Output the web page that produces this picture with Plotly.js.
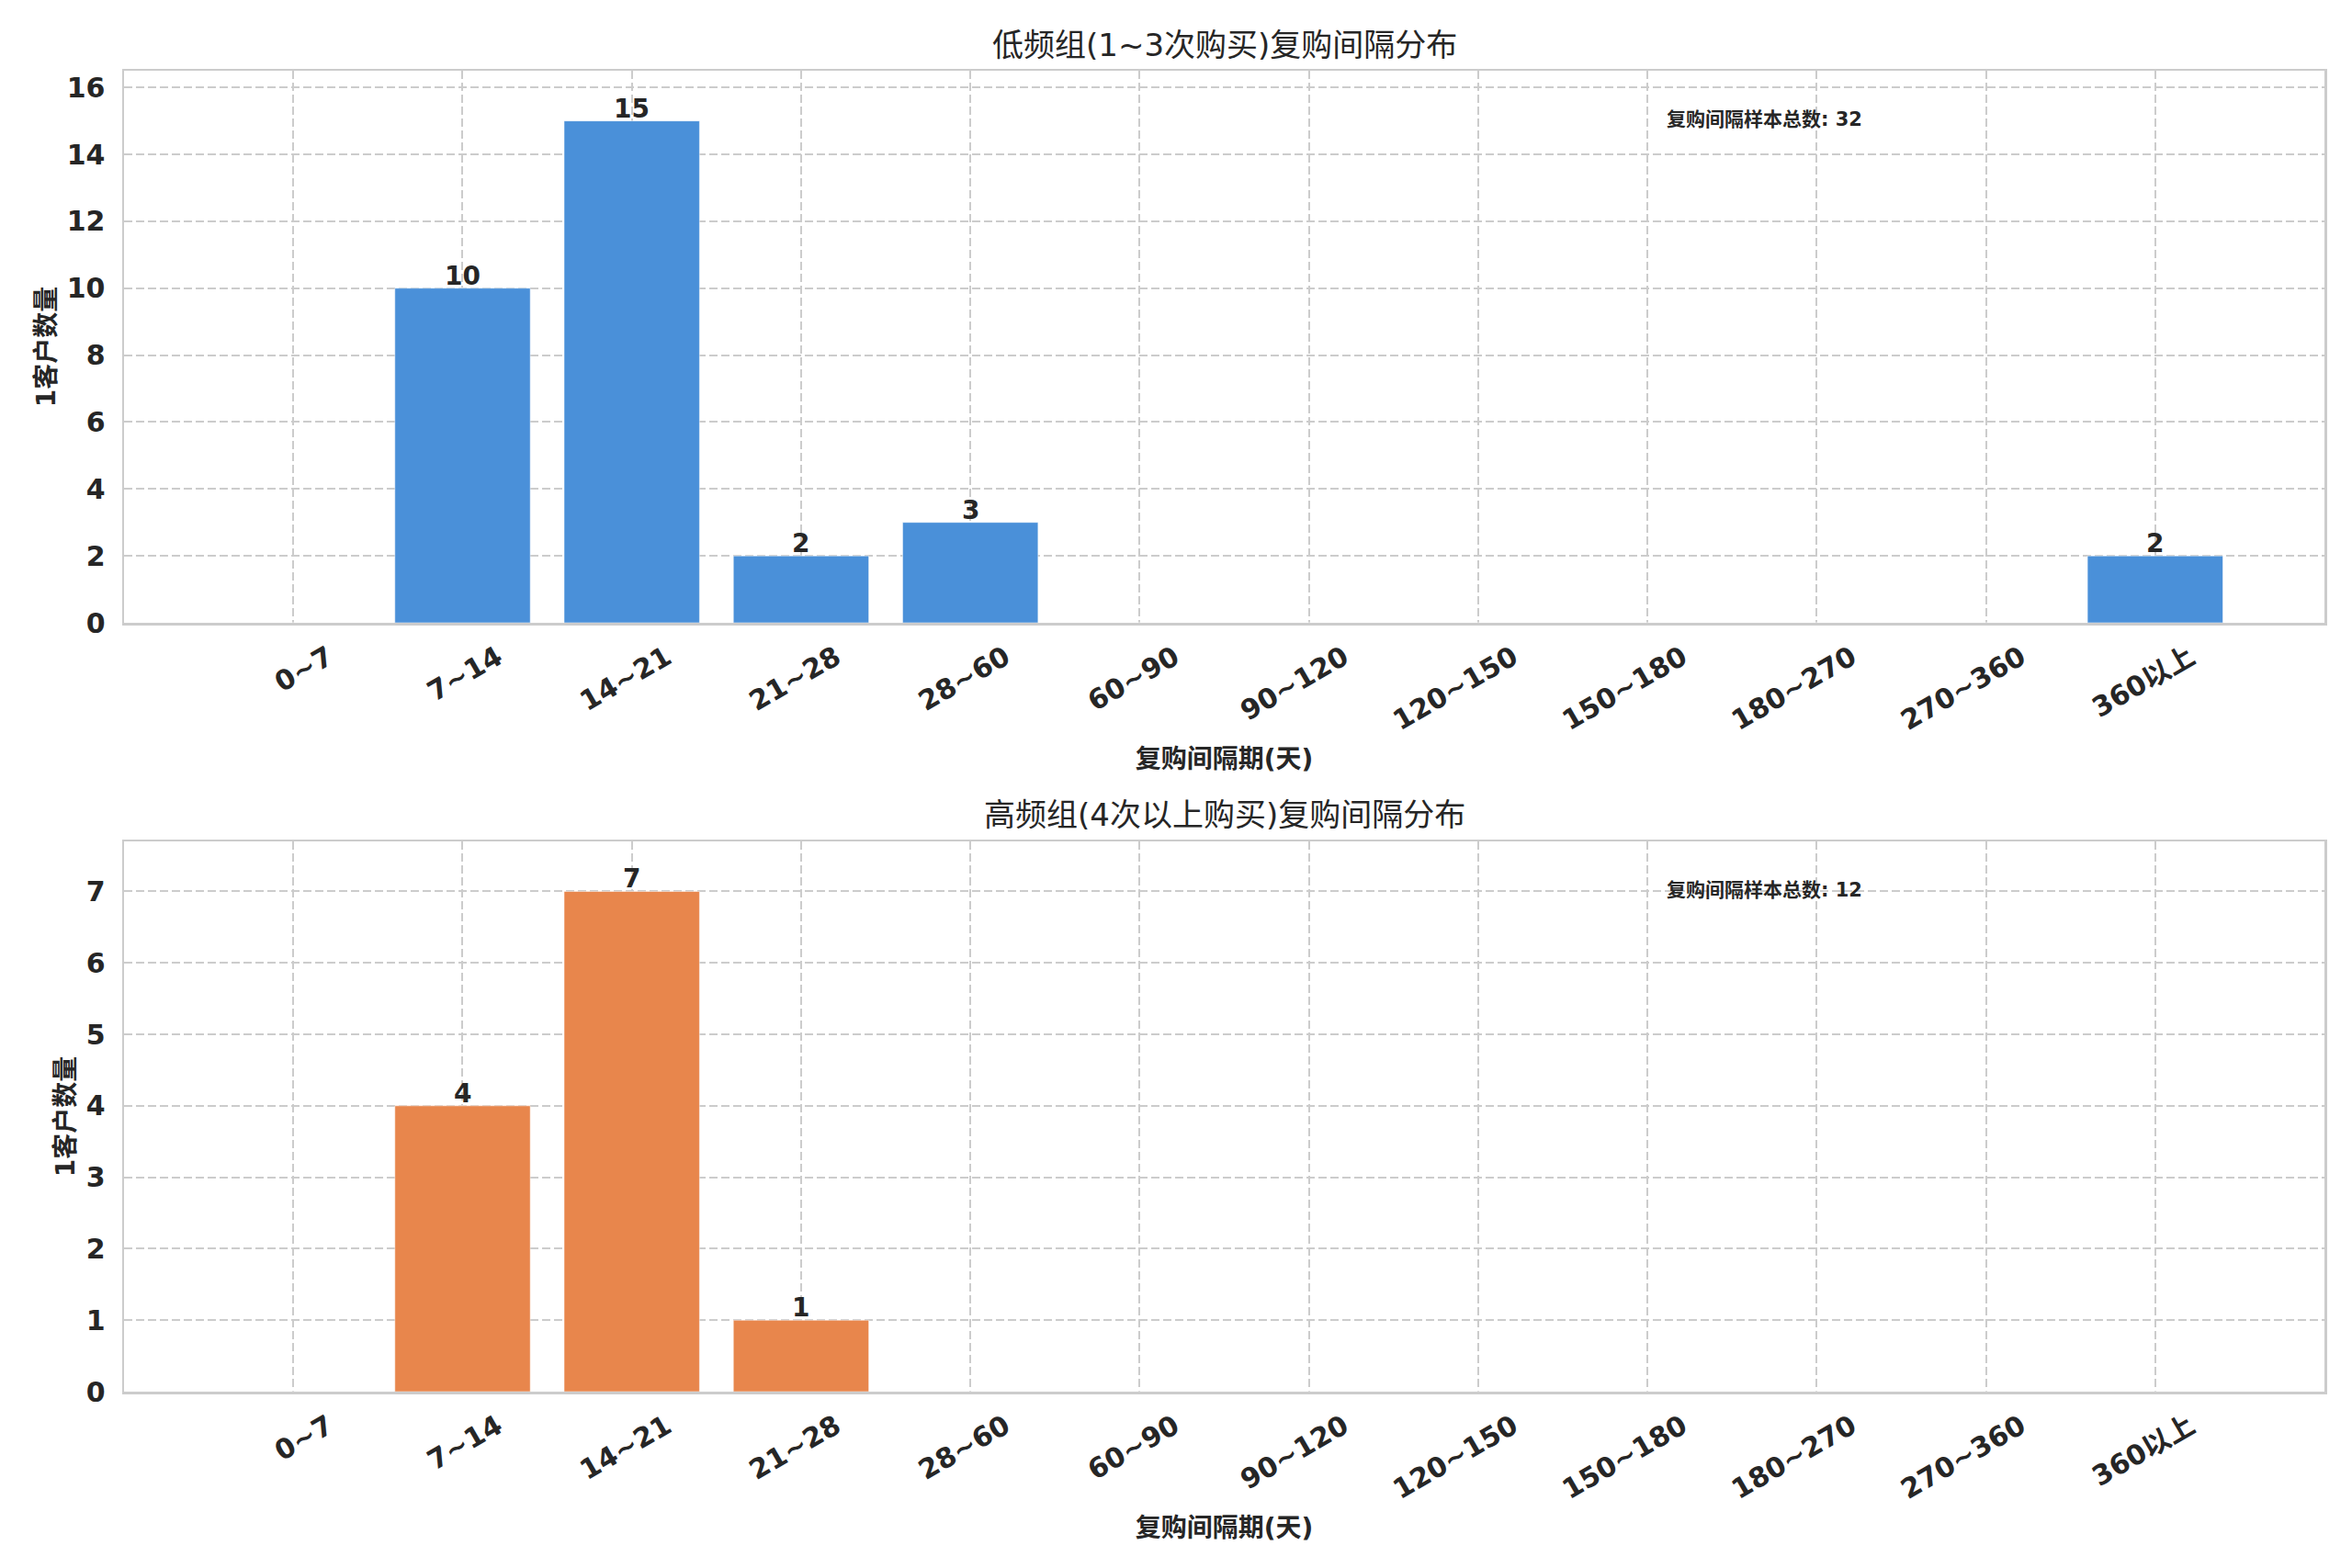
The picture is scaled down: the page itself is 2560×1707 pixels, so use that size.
<!DOCTYPE html>
<html>
<head>
<meta charset="utf-8">
<script src="https://cdn.plot.ly/plotly-3.0.1.min.js"></script>
<style>
  html, body { margin: 0; padding: 0; background: #fff; }
  #chart { width: 2560px; height: 1707px; }
</style>
</head>
<body>
<div id="chart"></div>
<script>
// interval buckets (days)
const intervalLabels = ["0~7", "7~14", "14~21", "21~28", "28~60", "60~90", "90~120", "120~150", "150~180", "180~270", "270~360", "360以上"];
const lowFreqCounts = [0, 10, 15, 2, 3, 0, 0, 0, 0, 0, 0, 2];
const highFreqCounts = [0, 4, 7, 1, 0, 0, 0, 0, 0, 0, 0, 0];

const titleLow = "低频组(1~3次购买)复购间隔分布";
const titleHigh = "高频组(4次以上购买)复购间隔分布";
const xLabel = "复购间隔期(天)";
const yLabel = "1客户数量";
const totalLabel = "复购间隔样本总数";

const FONT = "DejaVu Sans, Noto Sans CJK SC, sans-serif";
const INK = "#262626";
const GRID = "#cccccc";
const TICK_SIZE = 30;

function total(arr) {
  return arr.reduce((s, v) => s + v, 0);
}

function barTrace(values, color, xa, ya) {
  return {
    type: "bar",
    x: intervalLabels,
    y: values,
    xaxis: xa,
    yaxis: ya,
    width: 0.8,
    marker: { color, line: { color: "rgba(255,255,255,0.5)", width: 1 } },
    hoverinfo: "x+y",
  };
}

// value labels sitting right on the bar tops; empty buckets get none
function valueLabels(values, xa, ya) {
  return intervalLabels
    .map((cat, i) => ({ cat, v: values[i] }))
    .filter((d) => d.v > 0)
    .map((d) => ({
      text: String(d.v),
      x: d.cat,
      y: d.v,
      xref: xa,
      yref: ya,
      xanchor: "center",
      yanchor: "bottom",
      yshift: -5,
      showarrow: false,
      font: { family: FONT, size: 28, weight: "bold", color: INK },
    }));
}

function xAxis(anchor) {
  return {
    anchor,
    domain: [135 / 2560, 2530 / 2560],
    type: "category",
    range: [-1, intervalLabels.length],
    tickangle: -30,
    tickfont: { family: FONT, size: TICK_SIZE, weight: "bold", color: INK },
    ticklabelshift: 38,
    ticklabelstandoff: 6,
    showgrid: true,
    gridcolor: GRID,
    gridwidth: 2,
    griddash: "9px,4px",
    showline: true,
    mirror: true,
    linecolor: GRID,
    linewidth: 2.5,
    zeroline: false,
    ticks: "",
    title: { text: xLabel, font: { family: FONT, size: 28, weight: "bold", color: INK }, standoff: 16 },
    automargin: false,
  };
}

function yAxis(anchor, domain, maxVal, dtick) {
  return {
    anchor,
    domain,
    range: [0, maxVal * 1.1],
    dtick,
    tickfont: { family: FONT, size: TICK_SIZE, weight: "bold", color: INK },
    ticklabelstandoff: 12,
    showgrid: true,
    gridcolor: GRID,
    gridwidth: 2,
    griddash: "9px,4px",
    showline: true,
    mirror: true,
    linecolor: GRID,
    linewidth: 2.5,
    zeroline: false,
    ticks: "",
    title: { text: yLabel, font: { family: FONT, size: 28, weight: "bold", color: INK }, standoff: 4 },
  };
}

const data = [
  barTrace(lowFreqCounts, "#4a90d9", "x", "y"),
  barTrace(highFreqCounts, "#e8864c", "x2", "y2"),
];

const layout = {
  width: 2560,
  height: 1707,
  margin: { l: 0, r: 0, t: 0, b: 0 },
  paper_bgcolor: "#ffffff",
  plot_bgcolor: "#ffffff",
  showlegend: false,
  font: { family: FONT, color: INK },
  xaxis: xAxis("y"),
  yaxis: yAxis("x", [1 - 678 / 1707, 1 - 77 / 1707], Math.max(...lowFreqCounts), 2),
  xaxis2: xAxis("y2"),
  yaxis2: yAxis("x2", [1 - 1515 / 1707, 1 - 916 / 1707], Math.max(...highFreqCounts), 1),
  annotations: [
    {
      text: titleLow, xref: "paper", yref: "paper",
      x: (135 + 2530) / 2 / 2560, y: 1 - 49 / 1707,
      xanchor: "center", yanchor: "middle", showarrow: false,
      font: { family: FONT, size: 34, color: INK },
    },
    {
      text: titleHigh, xref: "paper", yref: "paper",
      x: (135 + 2530) / 2 / 2560, y: 1 - 887 / 1707,
      xanchor: "center", yanchor: "middle", showarrow: false,
      font: { family: FONT, size: 34, color: INK },
    },
    {
      text: `${totalLabel}: ${total(lowFreqCounts)}`, xref: "x domain", yref: "y domain",
      x: 0.7, y: 0.912, xanchor: "left", yanchor: "middle", showarrow: false,
      font: { family: FONT, size: 21, weight: "bold", color: INK },
    },
    {
      text: `${totalLabel}: ${total(highFreqCounts)}`, xref: "x2 domain", yref: "y2 domain",
      x: 0.7, y: 0.912, xanchor: "left", yanchor: "middle", showarrow: false,
      font: { family: FONT, size: 21, weight: "bold", color: INK },
    },
    ...valueLabels(lowFreqCounts, "x", "y"),
    ...valueLabels(highFreqCounts, "x2", "y2"),
  ],
};

Plotly.newPlot("chart", data, layout, { staticPlot: true, displayModeBar: false });
</script>
</body>
</html>
